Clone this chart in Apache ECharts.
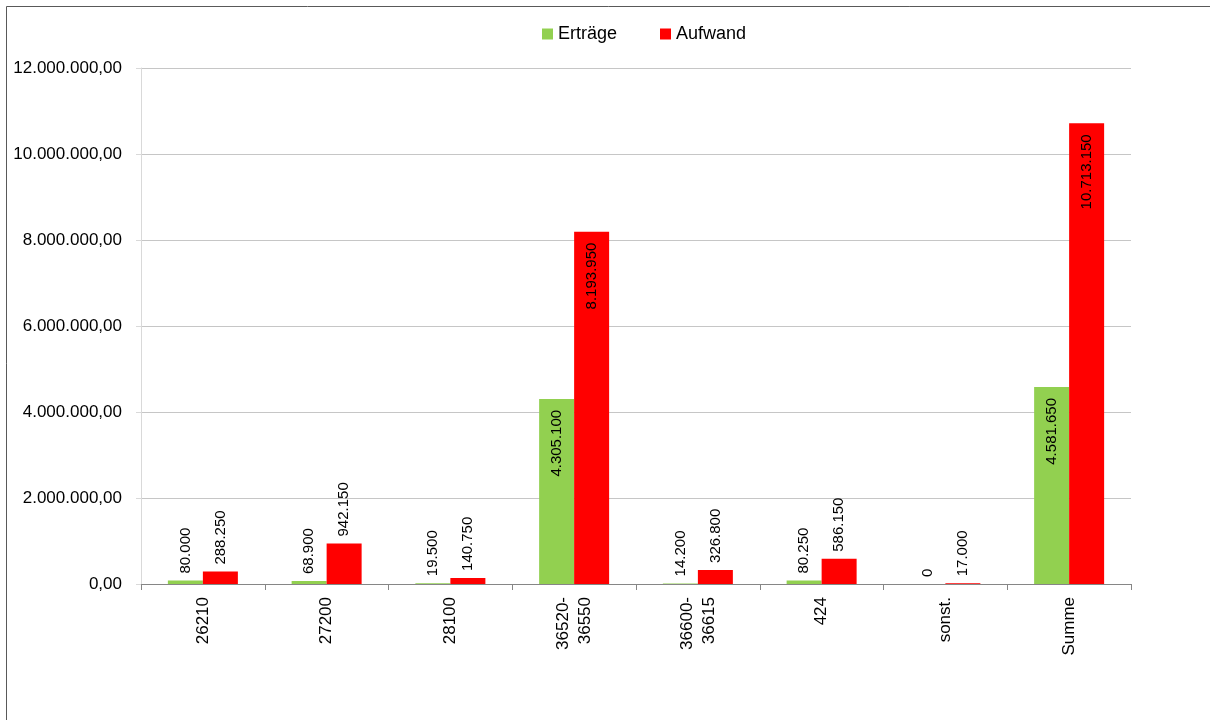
<!DOCTYPE html>
<html>
<head>
<meta charset="utf-8">
<style>
html, body { margin: 0; padding: 0; background: #fff; }
#chart { width: 1210px; height: 720px; }
</style>
<script src="https://cdn.jsdelivr.net/npm/echarts@6/dist/echarts.min.js"></script>
</head>
<body>
<div id="chart"></div>
<script>
var categories = ['26210', '27200', '28100', '36520-\n36550', '36600-\n36615', '424', 'sonst.', 'Summe'];
var ertraege = [80000, 68900, 19500, 4305100, 14200, 80250, 0, 4581650];
var aufwand = [288250, 942150, 140750, 8193950, 326800, 586150, 17000, 10713150];
var yTicks = { min: 0, max: 12000000, interval: 2000000 };

function deNum(v, dec) {
    var parts = v.toFixed(dec).split('.');
    var s = parts[0].replace(/\B(?=(\d{3})+(?!\d))/g, '.');
    return parts.length > 1 ? s + ',' + parts[1] : s;
}

// big bars get the label inside the top, small ones above the bar
function withLabels(values) {
    return values.map(function (v) {
        var inside = v > 2000000;
        return {
            value: v,
            label: inside
                ? { position: 'insideTop', rotate: 90, align: 'right', verticalAlign: 'middle', distance: 11 }
                : { position: 'top', rotate: 90, align: 'left', verticalAlign: 'middle', distance: 7 }
        };
    });
}

var dom = document.getElementById('chart');
var myChart = echarts.init(dom);
var labelStyle = {
    show: true,
    color: '#000',
    fontFamily: 'Liberation Sans',
    fontSize: 15,
    formatter: function (p) { return deNum(p.value, 0); }
};

var option = {
    animation: false,
    textStyle: { fontFamily: 'Liberation Sans' },
    graphic: [{
        type: 'rect',
        shape: { x: 6.5, y: 6.5, width: 1230, height: 740 },
        style: { fill: 'none', stroke: '#595959', lineWidth: 1 },
        silent: true
    }],
    legend: {
        left: 537,
        top: 20,
        icon: 'rect',
        itemWidth: 11,
        itemHeight: 11,
        itemGap: 43,
        textStyle: { color: '#000', fontSize: 18, fontFamily: 'Liberation Sans' },
        data: ['Erträge', 'Aufwand']
    },
    grid: { left: 141, right: 79, top: 68, bottom: 136, containLabel: false },
    xAxis: {
        type: 'category',
        data: categories,
        axisLine: { lineStyle: { color: '#868686', width: 1 } },
        axisTick: { show: true, length: 6, lineStyle: { color: '#868686' } },
        axisLabel: {
            rotate: 90,
            interval: 0,
            margin: 13,
            color: '#000',
            fontSize: 17,
            lineHeight: 22,
            fontFamily: 'Liberation Sans'
        }
    },
    yAxis: {
        type: 'value',
        min: yTicks.min,
        max: yTicks.max,
        interval: yTicks.interval,
        axisLine: { show: true, lineStyle: { color: '#d9d9d9' } },
        axisTick: { show: true, length: 5, lineStyle: { color: '#d9d9d9' } },
        splitLine: { lineStyle: { color: '#c6c6c6', width: 1 } },
        axisLabel: {
            margin: 19,
            color: '#000',
            fontSize: 17,
            fontFamily: 'Liberation Sans',
            formatter: function (v) { return deNum(v, 2); }
        }
    },
    series: [
        {
            name: 'Erträge',
            type: 'bar',
            barWidth: 35,
            barGap: '0%',
            itemStyle: { color: '#92d050' },
            label: labelStyle,
            data: withLabels(ertraege)
        },
        {
            name: 'Aufwand',
            type: 'bar',
            barWidth: 35,
            barGap: '0%',
            itemStyle: { color: '#ff0000' },
            label: labelStyle,
            data: withLabels(aufwand)
        }
    ]
};

if (option && typeof option === 'object') {
    myChart.setOption(option, true);
}
</script>
</body>
</html>
